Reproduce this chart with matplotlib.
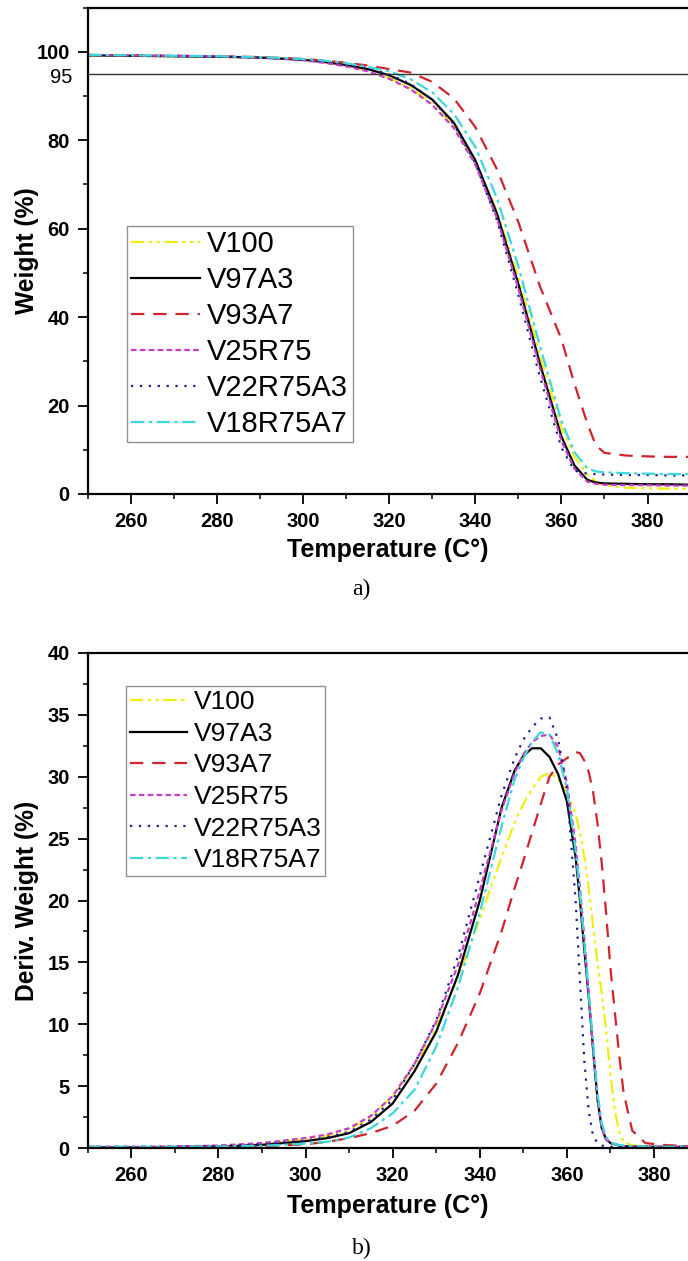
import matplotlib
matplotlib.use('Agg')
import matplotlib.pyplot as plt
from matplotlib.ticker import MultipleLocator
from matplotlib.transforms import blended_transform_factory

plt.rcParams['font.family'] = ['Liberation Sans', 'DejaVu Sans']

# TGA weight loss curves (weight %)
tga_temp = [250, 260, 270, 280, 290, 300, 305, 310, 315, 320, 325, 330, 335, 340,
            345, 350, 355, 360, 363, 366, 368, 370, 375, 380, 385, 390]
tga_v100 = [99.2, 99.1, 99.0, 98.9, 98.7, 98.2, 97.7, 96.9, 95.8, 94.1, 91.8, 88.3, 83.2,
            75.2, 64.0, 49.0, 31.5, 15.0, 8.5, 4.5, 2.8, 2.0, 1.4, 1.3, 1.2, 1.2]
tga_v97a3 = [99.2, 99.1, 99.0, 98.9, 98.7, 98.2, 97.7, 97.0, 96.1, 94.7, 92.5, 89.2, 84.0,
             75.5, 63.5, 47.5, 29.5, 13.0, 6.5, 3.2, 2.6, 2.4, 2.3, 2.2, 2.2, 2.1]
tga_v93a7 = [99.3, 99.2, 99.1, 99.0, 98.8, 98.4, 98.0, 97.5, 96.9, 96.1, 95.3, 93.2, 89.5,
             83.0, 73.5, 61.5, 47.0, 35.0, 25.0, 16.0, 11.0, 9.3, 8.7, 8.5, 8.4, 8.4]
tga_v25r75 = [99.3, 99.2, 99.1, 99.0, 98.7, 98.1, 97.5, 96.7, 95.6, 93.9, 91.5, 88.0, 82.8,
              74.5, 62.5, 46.5, 28.5, 12.0, 5.8, 2.8, 2.3, 2.1, 2.0, 2.0, 1.9, 1.9]
tga_v22r75a3 = [99.2, 99.1, 99.0, 98.9, 98.7, 98.3, 97.8, 97.2, 96.3, 94.9, 92.7, 89.2, 83.6,
                74.8, 62.0, 45.0, 26.5, 10.5, 5.3, 4.6, 4.5, 4.4, 4.3, 4.3, 4.2, 4.2]
tga_v18r75a7 = [99.3, 99.2, 99.1, 99.0, 98.8, 98.4, 98.0, 97.4, 96.6, 95.6, 93.8, 90.8, 86.0,
                78.5, 67.0, 51.5, 33.5, 16.5, 9.5, 5.8, 5.1, 4.9, 4.7, 4.6, 4.5, 4.5]

# DTG derivative curves
dtg_temp = [250, 260, 270, 280, 290, 300, 305, 310, 315, 320, 325, 330, 335, 340, 345, 348,
            350, 352, 354, 356, 358, 360, 362, 363, 364, 365, 366, 367, 368, 369, 370, 371,
            372, 373, 375, 378, 382, 388]
dtg_v100 = [0.05, 0.05, 0.1, 0.15, 0.3, 0.7, 1.0, 1.5, 2.5, 4.2, 6.6, 9.8, 13.8, 18.5, 23.5,
            26.3, 27.8, 29.0, 30.0, 30.3, 29.8, 28.8, 27.0, 25.5, 23.5, 21.0, 18.0, 15.0,
            12.5, 9.5, 6.0, 3.0, 1.3, 0.5, 0.2, 0.1, 0.05, 0.05]
dtg_v97a3 = [0.05, 0.05, 0.08, 0.12, 0.25, 0.55, 0.8, 1.2, 2.1, 3.6, 6.2, 9.4, 14.0, 20.0,
             27.5, 30.5, 31.7, 32.3, 32.3, 31.6, 30.2, 28.0, 23.5, 20.0, 16.0, 12.2, 8.0,
             4.0, 1.6, 0.7, 0.4, 0.3, 0.2, 0.15, 0.1, 0.1, 0.1, 0.1]
dtg_v93a7 = [0.1, 0.05, 0.1, 0.1, 0.15, 0.3, 0.5, 0.8, 1.2, 1.8, 3.0, 5.2, 8.5, 12.5, 17.5,
             21.0, 23.2, 25.5, 27.8, 30.0, 31.0, 31.5, 32.0, 31.9, 31.3, 30.4, 28.8, 26.3,
             23.0, 19.0, 14.5, 11.0, 7.5, 4.5, 1.4, 0.4, 0.25, 0.15]
dtg_v25r75 = [0.1, 0.1, 0.12, 0.2, 0.4, 0.8, 1.1, 1.6, 2.6, 4.2, 6.8, 10.2, 14.8, 20.8, 27.3,
              30.3, 31.8, 32.8, 33.3, 33.4, 32.4, 29.5, 24.5, 21.0, 17.0, 12.5, 8.0, 4.0,
              1.6, 0.7, 0.4, 0.3, 0.2, 0.15, 0.1, 0.1, 0.1, 0.1]
dtg_v22r75a3 = [0.1, 0.1, 0.1, 0.15, 0.3, 0.6, 0.9, 1.3, 2.3, 3.9, 6.8, 10.3, 15.5, 22.0,
                28.5, 31.5, 33.0, 34.0, 34.7, 34.8, 33.0, 29.0, 20.0, 13.5, 7.0, 3.0, 1.0,
                0.4, 0.2, 0.15, 0.1, 0.1, 0.1, 0.1, 0.1, 0.1, 0.1, 0.1]
dtg_v18r75a7 = [0.1, 0.1, 0.1, 0.12, 0.18, 0.35, 0.5, 0.85, 1.6, 2.8, 4.7, 8.2, 13.0, 19.0,
                26.0, 29.8, 31.5, 32.8, 33.6, 33.4, 31.8, 29.0, 24.0, 20.5, 16.5, 12.5, 8.5,
                4.5, 2.0, 0.9, 0.5, 0.3, 0.25, 0.2, 0.15, 0.1, 0.1, 0.1]

labels = ['V100', 'V97A3', 'V93A7', 'V25R75', 'V22R75A3', 'V18R75A7']
colors = ['#f0ee10', '#000000', '#d0232b', '#c83ccc', '#1d1d8f', '#3ad8dc']
styles = [(0, (6, 2, 1.5, 2, 1.5, 2)), '-', (0, (6, 4)), (0, (2.5, 1.5)),
          (0, (1, 3)), (0, (6, 2, 1.5, 2))]

tga_series = [tga_v100, tga_v97a3, tga_v93a7, tga_v25r75, tga_v22r75a3, tga_v18r75a7]
dtg_series = [dtg_v100, dtg_v97a3, dtg_v93a7, dtg_v25r75, dtg_v22r75a3, dtg_v18r75a7]

W, H = 688, 1261
fig = plt.figure(figsize=(W / 100, H / 100), dpi=100)
ax1 = fig.add_axes([87.8 / W, 1 - 494 / H, 1 - 87.8 / W, 486.4 / H])
ax2 = fig.add_axes([87.8 / W, 1 - 1148 / H, 1 - 87.8 / W, 495 / H])


def style_axes(ax):
    for side in ['left', 'bottom', 'top']:
        ax.spines[side].set_linewidth(1.6)
    ax.spines['right'].set_visible(False)
    ax.xaxis.set_major_locator(MultipleLocator(20))
    ax.xaxis.set_minor_locator(MultipleLocator(10))
    ax.tick_params(which='major', direction='out', length=7, width=1.3, labelsize=14.5, pad=6)
    ax.tick_params(which='minor', direction='out', length=3.8, width=1.1)
    ax.tick_params(top=False, right=False, which='both')
    for t in ax.get_xticklabels() + ax.get_yticklabels():
        t.set_fontweight('bold')


def add_legend(ax, anchor, size, hlen, spacing):
    leg = ax.legend(loc='upper left', bbox_to_anchor=anchor, borderaxespad=0,
                    fontsize=size, frameon=True, fancybox=False, labelspacing=spacing,
                    handlelength=hlen, handletextpad=0.25, borderpad=0.15)
    leg.get_frame().set_edgecolor('#777777')
    leg.get_frame().set_linewidth(1.0)


# a) weight loss
for vals, lab, c, ls in zip(tga_series, labels, colors, styles):
    ax1.plot(tga_temp, vals, color=c, linestyle=ls, linewidth=1.6, label=lab)
ax1.axhline(95, color='#333333', linewidth=1.0)
ax1.set_xlim(250, 389.4)
ax1.set_ylim(0, 110)
ax1.set_yticks([0, 20, 40, 60, 80, 100])
ax1.yaxis.set_minor_locator(MultipleLocator(10))
style_axes(ax1)
ax1.text(-0.026, 94.2, '95', transform=blended_transform_factory(ax1.transAxes, ax1.transData),
         ha='right', va='center', fontsize=14.5)
ax1.set_xlabel('Temperature (C°)', fontsize=18, fontweight='bold')
ax1.set_ylabel('Weight (%)', fontsize=17.7, fontweight='bold')
ax1.xaxis.set_label_coords(0.5, -0.09)
ax1.yaxis.set_label_coords(-0.082, 0.5)
add_legend(ax1, (0.0653, 0.551), 21, 2.35, 0.27)

# b) derivative weight
for vals, lab, c, ls in zip(dtg_series, labels, colors, styles):
    ax2.plot(dtg_temp, vals, color=c, linestyle=ls, linewidth=1.6, label=lab)
ax2.set_xlim(250, 387.8)
ax2.set_ylim(0, 40)
ax2.yaxis.set_major_locator(MultipleLocator(5))
ax2.yaxis.set_minor_locator(MultipleLocator(2.5))
style_axes(ax2)
ax2.set_xlabel('Temperature (C°)', fontsize=18, fontweight='bold')
ax2.set_ylabel('Deriv. Weight (%)', fontsize=17.7, fontweight='bold')
ax2.xaxis.set_label_coords(0.5, -0.092)
ax2.yaxis.set_label_coords(-0.082, 0.5)
add_legend(ax2, (0.0637, 0.933), 19, 2.16, 0.29)

fig.text(361 / W, 1 - 589 / H, 'a)', ha='center', va='center', fontsize=17,
         family='Liberation Serif')
fig.text(362 / W, 1 - 1248 / H, 'b)', ha='center', va='center', fontsize=17,
         family='Liberation Serif')

fig.savefig('out.png', dpi=100)
